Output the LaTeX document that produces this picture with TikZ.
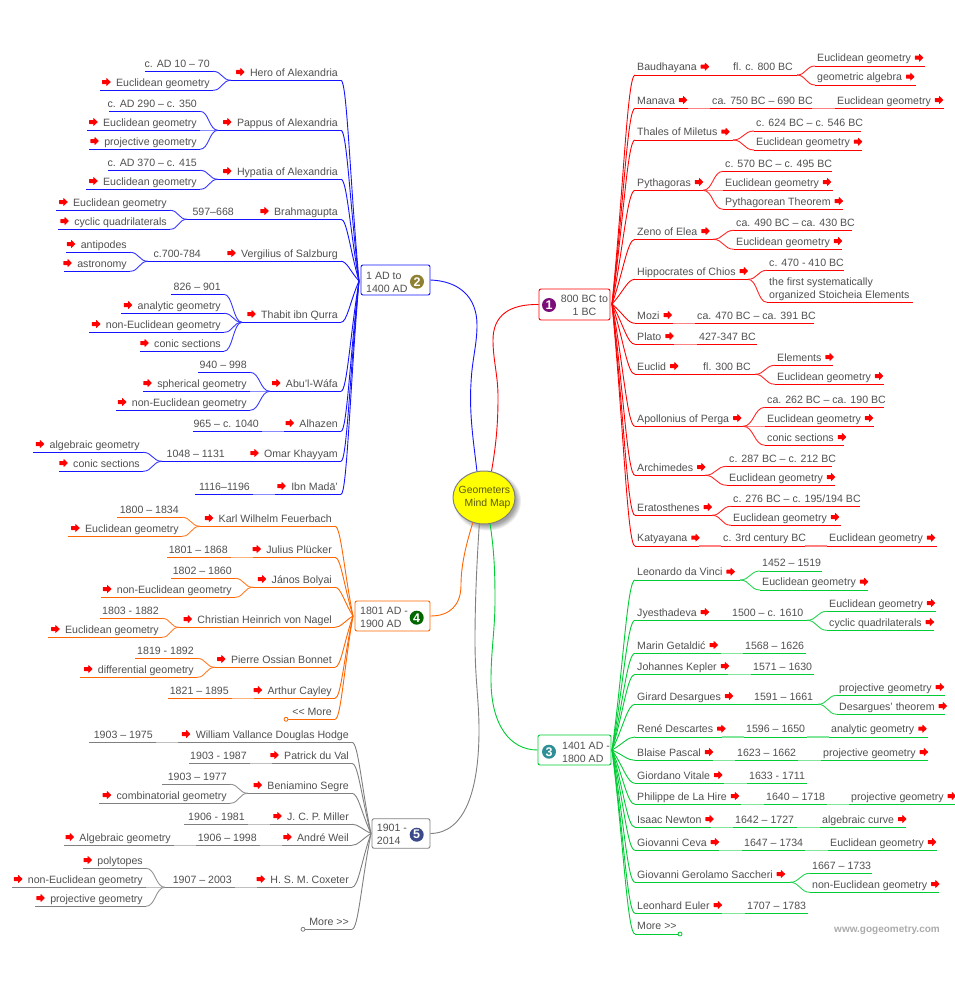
\documentclass[tikz,border=0pt]{standalone}
\usepackage{fontspec}
\setmainfont{Liberation Sans}
\usetikzlibrary{calc,shapes.geometric}
\definecolor{txt}{HTML}{505050}
\definecolor{cblue}{HTML}{1414FF}
\definecolor{cred}{HTML}{FF0000}
\definecolor{cgreen}{HTML}{00CC33}
\definecolor{corange}{HTML}{FF6600}
\definecolor{cgray}{HTML}{808080}
\definecolor{cyel}{HTML}{FFFF00}
\definecolor{cyeltxt}{HTML}{5A5A10}
\colorlet{bc}{black}
\tikzset{
  ln/.style={draw=bc,line width=0.9pt},
  cv/.style={draw=bc!85,line width=0.9pt},
  pl/.style={draw=bc!50,line width=1.2pt},
  lab/.style={font=\fontsize{10.6}{13}\selectfont,text=txt,inner sep=0pt},
  box/.style={rectangle,rounded corners=2pt,draw=bc,fill=white,line width=0.9pt,inner sep=0pt},
  icon/.style={circle,inner sep=0pt,minimum size=14pt,text=white,font=\fontsize{12.5}{12.5}\bfseries\selectfont},
  endc/.style={circle,draw=bc,fill=white,line width=0.8pt,inner sep=0pt,minimum size=4pt},
  arr/.pic={\fill[red,rounded corners=0.4pt] (-4.2,-2)--(0,-2)--(0,-4.2)--(4.4,0)--(0,4.2)--(0,2)--(-4.2,2)--cycle;}
}
\newcommand\LI[6]{%
  \coordinate (#1-a) at (#2,#4); \coordinate (#1-b) at (#3,#4);
  \draw[ln] (#1-a)--(#1-b);
  \node[lab,anchor=base east] (#1) at ({#2-3},{#4-4.3}) {#5};
  \ifnum#6=1 \pic at ($(#1.base west)+(-9.5,-4)$) {arr};\fi}
\newcommand\RI[6]{%
  \coordinate (#1-a) at (#2,#4); \coordinate (#1-b) at (#3,#4);
  \draw[ln] (#1-a)--(#1-b);
  \node[lab,anchor=base west] (#1) at ({#2+2},{#4-4.3}) {#5};
  \ifnum#6=1 \pic at ($(#1.base east)+(8,-4)$) {arr};\fi}
\newcommand\Cn[2]{\draw[cv] let \p1=(#1-b),\p2=(#2-a) in (\p1) .. controls ({0.5*\x1+0.5*\x2},{\y1}) and ({0.5*\x1+0.5*\x2},{\y2}) .. (\p2);}
\newcommand\St[2]{\draw[ln] (#1-b)--(#2-a);}
\newcommand\Pl[2]{\draw[pl] (#1-b)--(#2-a);}
\newcommand\Bus[2]{\draw[ln] let \p1=(#1-a),\p2=(#2) in (\p1) .. controls ({\x1+0.33*(\x2-\x1)},{\y1}) and ({\x1+0.5*(\x2-\x1)},{0.5*\y1+0.5*\y2}) .. (\p2);}
\begin{document}
\begin{tikzpicture}[x=1pt,y=-1pt]
\useasboundingbox (0,0) rectangle (955,990);
\fill[white] (0,0) rectangle (955,990);

% central shadow
\foreach \r in {0,1,...,5}{\fill[black,opacity=0.07] (487.5,501) ellipse ({33.5-\r} and {29.5-\r});}
\node[ellipse,draw=gray,line width=1pt,fill=cyel,minimum width=62pt,minimum height=53pt,inner sep=0pt] (c) at (484,497.5) {};
\node[align=left,inner sep=0pt,font=\fontsize{10.4}{13}\selectfont,text=cyeltxt] (ct) at (484.5,497.5) {Geometers\\\hspace{6pt}Mind Map};

% boxes
\colorlet{bc}{cred}
\node[box,minimum width=71pt,minimum height=31pt] (box1) at (574.5,304.5) {};
\colorlet{bc}{cblue}
\node[box,minimum width=69pt,minimum height=30pt] (box2) at (395.5,280) {};
\colorlet{bc}{cgreen}
\node[box,minimum width=73pt,minimum height=30pt] (box3) at (574.5,750) {};
\colorlet{bc}{corange}
\node[box,minimum width=75pt,minimum height=30pt] (box4) at (392.5,616) {};
\colorlet{bc}{cgray}
\node[box,minimum width=58pt,minimum height=29.5pt] (box5) at (401,833.5) {};

\node[lab,align=center,anchor=center] (t1) at (584.5,305) {800 BC to\\1 BC};
\node[lab,align=left,anchor=west] (t2) at (366,282) {1 AD to\\1400 AD};
\node[lab,align=left,anchor=west] (t3) at (562,752) {1401 AD -\\1800 AD};
\node[lab,align=left,anchor=west] (t4) at (360,617) {1801 AD -\\1900 AD};
\node[lab,align=left,anchor=west] (t5) at (376.7,834) {1901 -\\2014};
\node[icon,fill={rgb,255:red,122;green,15;blue,122}] (i1) at (549,305) {1};
\node[icon,fill={rgb,255:red,143;green,128;blue,51}] (i2) at (417,281.7) {2};
\node[icon,fill={rgb,255:red,47;green,143;blue,150}] (i3) at (549,751.7) {3};
\node[icon,fill={rgb,255:red,0;green,102;blue,0}] (i4) at (416.7,617.7) {4};
\node[icon,fill={rgb,255:red,58;green,74;blue,138}] (i5) at (416.7,834.7) {5};

% central links
\draw[draw=cblue,line width=0.9pt] (c.105) .. controls (474,445) and (469,415) .. (471,383) .. controls (472,360) and (477,345) .. (477,325) .. controls (477,296) and (458,281) .. (box2.east);
\draw[draw=cred,line width=0.9pt] (c.74) .. controls (496,445) and (498,425) .. (498,397) .. controls (498,375) and (493,360) .. (493,340) .. controls (493,315) and (510,304) .. (box1.west);
\draw[draw=corange,line width=0.9pt] (c.246) .. controls (466,545) and (461,565) .. (461,585) .. controls (461,605) and (450,616) .. (box4.east);
\draw[draw=cgray,line width=0.9pt] (c.260) .. controls (477,560) and (475,600) .. (475,640) .. controls (475,680) and (479,700) .. (479,730) .. controls (479,790) and (465,833) .. (box5.east);
\draw[draw=cgreen,line width=0.9pt] (c.283) .. controls (494,550) and (495,570) .. (495,600) .. controls (495,630) and (491,650) .. (491,680) .. controls (491,725) and (510,750) .. (box3.west);

\coordinate (hub1) at (612,304);
\coordinate (hub2) at (359,281);
\coordinate (hub3) at (612,750);
\coordinate (hub4) at (353,616);
\coordinate (hub5) at (371,833.5);

% ===== group 2
\colorlet{bc}{cblue}
\LI{b1}{341}{231}{80.3}{Hero of Alexandria}{1}
\LI{b1x}{213}{145}{71.3}{c. AD 10 – 70}{0}
\LI{b1y}{213}{100}{90.3}{Euclidean geometry}{1}
\Cn{b1}{b1x}\Cn{b1}{b1y}\Bus{b1}{hub2}
\LI{b2}{341}{218}{130.3}{Pappus of Alexandria}{1}
\LI{b2x}{200}{109}{111.3}{c. AD 290 – c. 350}{0}
\LI{b2y}{200}{87}{130.3}{Euclidean geometry}{1}
\LI{b2z}{200}{89}{149.3}{projective geometry}{1}
\Cn{b2}{b2x}\Pl{b2}{b2y}\Cn{b2}{b2z}\Bus{b2}{hub2}
\LI{b3}{341}{218}{179.3}{Hypatia of Alexandria}{1}
\LI{b3x}{200}{108}{170.3}{c. AD 370 – c. 415}{0}
\LI{b3y}{200}{86}{189.3}{Euclidean geometry}{1}
\Cn{b3}{b3x}\Cn{b3}{b3y}\Bus{b3}{hub2}
\LI{b4}{341}{258}{219.3}{Brahmagupta}{1}
\LI{b4d}{237}{187}{219.3}{597–668}{0}
\LI{b4x}{170}{56}{210.3}{Euclidean geometry}{1}
\LI{b4y}{170}{58}{229.3}{cyclic quadrilaterals}{1}
\St{b4}{b4d}\Cn{b4d}{b4x}\Cn{b4d}{b4y}\Bus{b4}{hub2}
\LI{b5}{341}{226}{261.3}{Vergilius of Salzburg}{1}
\LI{b5d}{204}{148}{261.3}{c.700-784}{0}
\LI{b5x}{130}{66}{252.3}{antipodes}{1}
\LI{b5y}{130}{64}{271.3}{astronomy}{1}
\St{b5}{b5d}\Cn{b5d}{b5x}\Cn{b5d}{b5y}\Bus{b5}{hub2}
\LI{b6}{341}{242}{322.3}{Thabit ibn Qurra}{1}
\LI{b6w}{224}{171}{294.3}{826 – 901}{0}
\LI{b6x}{224}{121}{313.3}{analytic geometry}{1}
\LI{b6y}{224}{89}{332.3}{non-Euclidean geometry}{1}
\LI{b6z}{224}{140}{351.3}{conic sections}{1}
\Cn{b6}{b6w}\Cn{b6}{b6x}\Cn{b6}{b6y}\Cn{b6}{b6z}\Bus{b6}{hub2}
\LI{b7}{341}{270}{391.3}{Abu'l-Wáfa}{1}
\LI{b7x}{250}{198}{372.3}{940 – 998}{0}
\LI{b7y}{250}{143}{391.3}{spherical geometry}{1}
\LI{b7z}{250}{116}{410.3}{non-Euclidean geometry}{1}
\Cn{b7}{b7x}\Pl{b7}{b7y}\Cn{b7}{b7z}\Bus{b7}{hub2}
\LI{b8}{341}{284}{431.3}{Alhazen}{1}
\LI{b8d}{262}{193}{431.3}{965 – c. 1040}{0}
\Pl{b8}{b8d}\Bus{b8}{hub2}
\LI{b9}{341}{250}{461.3}{Omar Khayyam}{1}
\LI{b9d}{228}{162}{461.3}{1048 – 1131}{0}
\LI{b9x}{143}{33}{452.3}{algebraic geometry}{1}
\LI{b9y}{143}{59}{471.3}{conic sections}{1}
\St{b9}{b9d}\Cn{b9d}{b9x}\Cn{b9d}{b9y}\Bus{b9}{hub2}
\LI{b10}{341}{275}{494.3}{Ibn Madā'}{1}
\LI{b10d}{253}{195}{494.3}{1116–1196}{0}
\Pl{b10}{b10d}\Bus{b10}{hub2}

% ===== group 4
\colorlet{bc}{corange}
\LI{o1}{335}{200}{526.3}{Karl Wilhelm Feuerbach}{1}
\LI{o1x}{182}{117}{517.3}{1800 – 1834}{0}
\LI{o1y}{182}{68}{536.3}{Euclidean geometry}{1}
\Cn{o1}{o1x}\Cn{o1}{o1y}\Bus{o1}{hub4}
\LI{o2}{335}{253}{557.3}{Julius Plücker}{1}
\LI{o2d}{231}{167}{557.3}{1801 – 1868}{0}
\Pl{o2}{o2d}\Bus{o2}{hub4}
\LI{o3}{335}{253}{587.3}{János Bolyai}{1}
\LI{o3x}{235}{171}{578.3}{1802 – 1860}{0}
\LI{o3y}{235}{101}{597.3}{non-Euclidean geometry}{1}
\Cn{o3}{o3x}\Cn{o3}{o3y}\Bus{o3}{hub4}
\LI{o4}{335}{179}{627.3}{Christian Heinrich von Nagel}{1}
\LI{o4x}{162}{100}{618.3}{1803 - 1882}{0}
\LI{o4y}{162}{48}{637.3}{Euclidean geometry}{1}
\Cn{o4}{o4x}\Cn{o4}{o4y}\Bus{o4}{hub4}
\LI{o5}{335}{215}{667.3}{Pierre Ossian Bonnet}{1}
\LI{o5x}{197}{135}{658.3}{1819 - 1892}{0}
\LI{o5y}{197}{80}{677.3}{differential geometry}{1}
\Cn{o5}{o5x}\Cn{o5}{o5y}\Bus{o5}{hub4}
\LI{o6}{335}{254}{698.3}{Arthur Cayley}{1}
\LI{o6d}{232}{168}{698.3}{1821 – 1895}{0}
\Pl{o6}{o6d}\Bus{o6}{hub4}
\LI{o7}{335}{286}{719.3}{<\kern0pt< More\hspace{3pt}}{0}
\Bus{o7}{hub4}
\node[endc] (o7e) at (o7-b) {};

% ===== group 5
\colorlet{bc}{cgray}
\LI{g1}{352}{178}{742.3}{William Vallance Douglas Hodge}{1}
\LI{g1d}{156}{89}{742.3}{1903 – 1975}{0}
\Pl{g1}{g1d}\Bus{g1}{hub5}
\LI{g2}{352}{272}{763.3}{Patrick du Val}{1}
\LI{g2d}{250}{189}{763.3}{1903 - 1987}{0}
\Pl{g2}{g2d}\Bus{g2}{hub5}
\LI{g3}{352}{248}{793.3}{Beniamino Segre}{1}
\LI{g3x}{230}{162}{784.3}{1903 – 1977}{0}
\LI{g3y}{230}{99}{803.3}{combinatorial geometry}{1}
\Cn{g3}{g3x}\Cn{g3}{g3y}\Bus{g3}{hub5}
\LI{g4}{352}{270}{824.3}{J. C. P. Miller}{1}
\LI{g4d}{248}{184}{824.3}{1906 - 1981}{0}
\Pl{g4}{g4d}\Bus{g4}{hub5}
\LI{g5}{352}{282}{845.3}{André Weil}{1}
\LI{g5d}{260}{196}{845.3}{1906 – 1998}{0}
\LI{g5e}{174}{64}{845.3}{Algebraic geometry}{1}
\Pl{g5}{g5d}\Pl{g5d}{g5e}\Bus{g5}{hub5}
\LI{g6}{352}{257}{887.3}{H. S. M. Coxeter}{1}
\LI{g6d}{235}{165}{887.3}{1907 – 2003}{0}
\LI{g6x}{146}{83}{868.3}{polytopes}{1}
\LI{g6y}{146}{12}{887.3}{non-Euclidean geometry}{1}
\LI{g6z}{146}{35}{906.3}{projective geometry}{1}
\Pl{g6}{g6d}\Cn{g6d}{g6x}\Pl{g6d}{g6y}\Cn{g6d}{g6z}\Bus{g6}{hub5}
\LI{g7}{352}{303}{929.3}{More >\kern0pt>\hspace{3pt}}{0}
\Bus{g7}{hub5}
\node[endc] (g7e) at (g7-b) {};

% ===== group 1
\colorlet{bc}{cred}
\RI{r1}{635}{712}{75}{Baudhayana}{1}
\RI{r1d}{731}{797}{75}{fl. c. 800 BC}{0}
\RI{r1x}{815}{925}{66}{Euclidean geometry}{1}
\RI{r1y}{815}{916}{85}{geometric algebra}{1}
\St{r1}{r1d}\Cn{r1d}{r1x}\Cn{r1d}{r1y}\Bus{r1}{hub1}
\RI{r2}{635}{688}{108.3}{Manava}{1}
\RI{r2d}{710}{812}{108.3}{ca. 750 BC – 690 BC}{0}
\RI{r2e}{835}{944}{108.3}{Euclidean geometry}{1}
\Pl{r2}{r2d}\Pl{r2d}{r2e}\Bus{r2}{hub1}
\RI{r3}{635}{733}{140}{Thales of Miletus}{1}
\RI{r3x}{754}{861}{131}{c. 624 BC – c. 546 BC}{0}
\RI{r3y}{754}{862}{150}{Euclidean geometry}{1}
\Cn{r3}{r3x}\Cn{r3}{r3y}\Bus{r3}{hub1}
\RI{r4}{635}{703}{190.3}{Pythagoras}{1}
\RI{r4x}{723}{832}{171.3}{c. 570 BC – c. 495 BC}{0}
\RI{r4y}{723}{833}{190.3}{Euclidean geometry}{1}
\RI{r4z}{723}{843}{209.3}{Pythagorean Theorem}{1}
\Cn{r4}{r4x}\Pl{r4}{r4y}\Cn{r4}{r4z}\Bus{r4}{hub1}
\RI{r5}{635}{713}{239.3}{Zeno of Elea}{1}
\RI{r5x}{734}{852}{230.3}{ca. 490 BC – ca. 430 BC}{0}
\RI{r5y}{734}{842}{249.3}{Euclidean geometry}{1}
\Cn{r5}{r5x}\Cn{r5}{r5y}\Bus{r5}{hub1}
\RI{r6}{635}{748}{279.3}{Hippocrates of Chios}{1}
\RI{r6x}{767}{844}{270.3}{c. 470 - 410 BC}{0}
\coordinate (r6y-a) at (767,302.3); \coordinate (r6y-b) at (913,302.3);
\draw[ln] (r6y-a)--(r6y-b);
\node[lab,align=left,anchor=south west] (r6y) at (769,300.8) {the first systematically\\organized Stoicheia Elements};
\Cn{r6}{r6x}\Cn{r6}{r6y}\Bus{r6}{hub1}
\RI{r7}{635}{672.5}{323.3}{Mozi}{1}
\RI{r7d}{695}{814}{323.3}{ca. 470 BC – ca. 391 BC}{0}
\Pl{r7}{r7d}\Bus{r7}{hub1}
\RI{r8}{635}{674}{344.3}{Plato}{1}
\RI{r8d}{697}{757}{344.3}{427-347 BC}{0}
\Pl{r8}{r8d}\Bus{r8}{hub1}
\RI{r9}{635}{680}{374.3}{Euclid}{1}
\RI{r9d}{701}{755}{374.3}{fl. 300 BC}{0}
\RI{r9x}{775}{833}{365.3}{Elements}{1}
\RI{r9y}{775}{884}{384.3}{Euclidean geometry}{1}
\St{r9}{r9d}\Cn{r9d}{r9x}\Cn{r9d}{r9y}\Bus{r9}{hub1}
\RI{r10}{635}{743}{426.3}{Apollonius of Perga}{1}
\RI{r10x}{765}{884}{407.3}{ca. 262 BC – ca. 190 BC}{0}
\RI{r10y}{765}{874}{426.3}{Euclidean geometry}{1}
\RI{r10z}{765}{844}{445.3}{conic sections}{1}
\Cn{r10}{r10x}\Pl{r10}{r10y}\Cn{r10}{r10z}\Bus{r10}{hub1}
\RI{r11}{635}{705}{475.3}{Archimedes}{1}
\RI{r11x}{727}{832}{466.3}{c. 287 BC – c. 212 BC}{0}
\RI{r11y}{727}{835}{485.3}{Euclidean geometry}{1}
\Cn{r11}{r11x}\Cn{r11}{r11y}\Bus{r11}{hub1}
\RI{r12}{635}{712}{515.3}{Eratosthenes}{1}
\RI{r12x}{731}{860}{506.3}{c. 276 BC – c. 195/194 BC}{0}
\RI{r12y}{731}{841}{525.3}{Euclidean geometry}{1}
\Cn{r12}{r12x}\Cn{r12}{r12y}\Bus{r12}{hub1}
\RI{r13}{635}{699}{546}{Katyayana}{1}
\RI{r13d}{721}{805}{546}{c. 3rd century BC}{0}
\RI{r13e}{827}{937}{546}{Euclidean geometry}{1}
\Pl{r13}{r13d}\Pl{r13d}{r13e}\Bus{r13}{hub1}

% ===== group 3
\colorlet{bc}{cgreen}
\RI{v1}{635}{740}{580}{Leonardo da Vinci}{1}
\RI{v1x}{760}{822}{571}{1452 – 1519}{0}
\RI{v1y}{760}{868}{590}{Euclidean geometry}{1}
\Cn{v1}{v1x}\Cn{v1}{v1y}\Bus{v1}{hub3}
\RI{v2}{635}{712}{620.3}{Jyesthadeva}{1}
\RI{v2d}{730}{807}{620.3}{1500 – c. 1610}{0}
\RI{v2x}{827}{936}{611.3}{Euclidean geometry}{1}
\RI{v2y}{827}{934}{630.3}{cyclic quadrilaterals}{1}
\St{v2}{v2d}\Cn{v2d}{v2x}\Cn{v2d}{v2y}\Bus{v2}{hub3}
\RI{v3}{635}{720.5}{653.3}{Marin Getaldić}{1}
\RI{v3d}{743}{806}{653.3}{1568 – 1626}{0}
\Pl{v3}{v3d}\Bus{v3}{hub3}
\RI{v4}{635}{728}{674.3}{Johannes Kepler}{1}
\RI{v4d}{751}{814}{674.3}{1571 – 1630}{0}
\Pl{v4}{v4d}\Bus{v4}{hub3}
\RI{v5}{635}{735}{704.3}{Girard Desargues}{1}
\RI{v5d}{752}{818}{704.3}{1591 – 1661}{0}
\RI{v5x}{837}{945}{695.3}{projective geometry}{1}
\RI{v5y}{837}{945}{714.3}{Desargues' theorem}{1}
\St{v5}{v5d}\Cn{v5d}{v5x}\Cn{v5d}{v5y}\Bus{v5}{hub3}
\RI{v6}{635}{721.5}{737}{René Descartes}{1}
\RI{v6d}{744}{807}{737}{1596 – 1650}{0}
\RI{v6e}{829}{928}{737}{analytic geometry}{1}
\Pl{v6}{v6d}\Pl{v6d}{v6e}\Bus{v6}{hub3}
\RI{v7}{635}{713}{760.3}{Blaise Pascal}{1}
\RI{v7d}{735}{798}{760.3}{1623 – 1662}{0}
\RI{v7e}{821}{928}{760.3}{projective geometry}{1}
\Pl{v7}{v7d}\Pl{v7d}{v7e}\Bus{v7}{hub3}
\RI{v8}{635}{724}{783.3}{Giordano Vitale}{1}
\RI{v8d}{747}{807}{783.3}{1633 - 1711}{0}
\Pl{v8}{v8d}\Bus{v8}{hub3}
\RI{v9}{635}{741}{804.3}{Philippe de La Hire}{1}
\RI{v9d}{764}{827}{804.3}{1640 – 1718}{0}
\RI{v9e}{849}{955}{804.3}{projective geometry}{1}
\Pl{v9}{v9d}\Pl{v9d}{v9e}\Bus{v9}{hub3}
\RI{v10}{635}{711}{827.3}{Isaac Newton}{1}
\RI{v10d}{733}{797}{827.3}{1642 – 1727}{0}
\RI{v10e}{820}{906}{827.3}{algebraic curve}{1}
\Pl{v10}{v10d}\Pl{v10d}{v10e}\Bus{v10}{hub3}
\RI{v11}{635}{719}{850.3}{Giovanni Ceva}{1}
\RI{v11d}{742}{805}{850.3}{1647 – 1734}{0}
\RI{v11e}{828}{937}{850.3}{Euclidean geometry}{1}
\Pl{v11}{v11d}\Pl{v11d}{v11e}\Bus{v11}{hub3}
\RI{v12}{635}{790}{882.3}{Giovanni Gerolamo Saccheri}{1}
\RI{v12x}{810}{872}{873.3}{1667 – 1733}{0}
\RI{v12y}{810}{939}{892.3}{non-Euclidean geometry}{1}
\Cn{v12}{v12x}\Cn{v12}{v12y}\Bus{v12}{hub3}
\RI{v13}{635}{722}{913.3}{Leonhard Euler}{1}
\RI{v13d}{745}{808}{913.3}{1707 – 1783}{0}
\Pl{v13}{v13d}\Bus{v13}{hub3}
\RI{v14}{635}{680}{934}{More >\kern0pt>}{0}
\Bus{v14}{hub3}
\node[endc] (v14e) at (v14-b) {};

\node[anchor=base east,inner sep=0pt,font=\fontsize{10}{12}\bfseries\selectfont,text=black!33] (wm) at (940,932.5) {www.gogeometry.com};
\end{tikzpicture}
\end{document}
